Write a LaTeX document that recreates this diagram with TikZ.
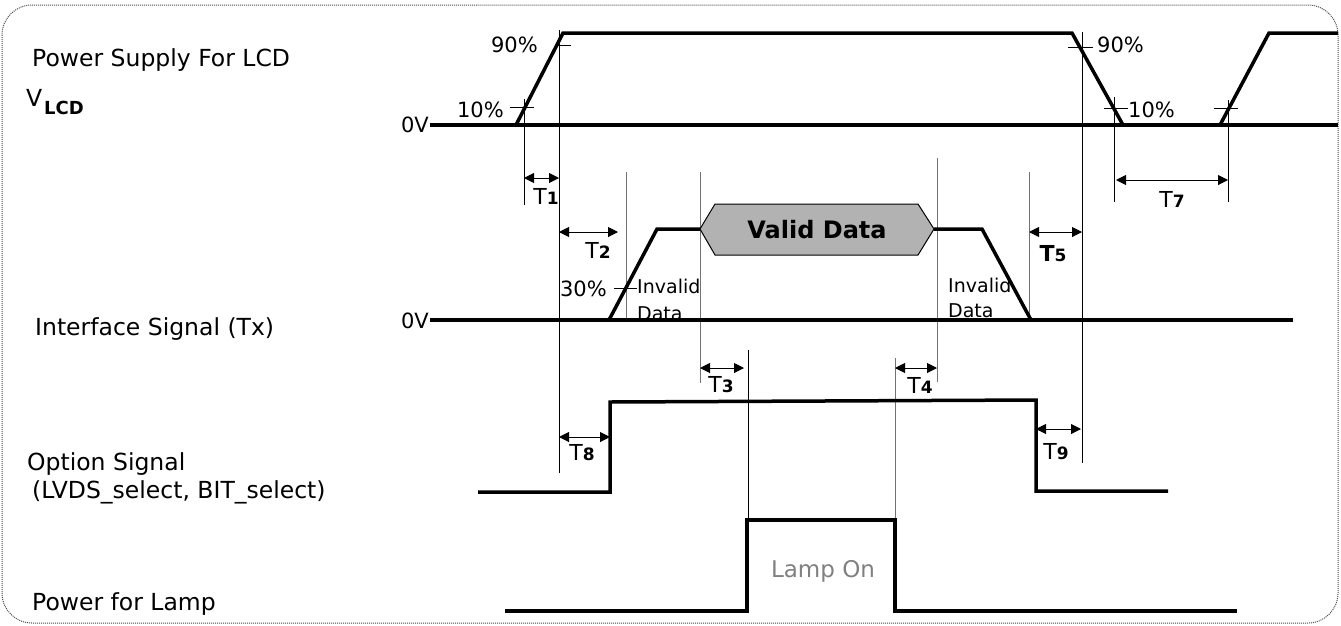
\documentclass[tikz,border=0pt]{standalone}
\usepackage{fontspec}
\setmainfont{DejaVu Sans}
\usetikzlibrary{arrows.meta}
\newcommand\Tlab[1]{T{\bfseries\fontsize{17}{19}\selectfont #1}}
\begin{document}
\begin{tikzpicture}[x=1pt,y=-1pt,
  sig/.style={line width=3.5pt,line join=miter},
  vref/.style={line width=1pt,draw=black},
  vrefg/.style={line width=1pt,draw=black!55},
  tick/.style={line width=1pt},
  dim/.style={line width=1pt,{Triangle[length=10pt,width=10pt]}-{Triangle[length=10pt,width=10pt]}},
  lbl/.style={anchor=base west,inner sep=0pt,font=\fontsize{23.5}{27}\selectfont},
  pct/.style={inner sep=0pt,font=\fontsize{21}{25}\selectfont},
  smalltxt/.style={anchor=base west,inner sep=0pt,font=\fontsize{19}{22}\selectfont},
  tlab/.style={inner sep=0pt,font=\fontsize{22}{26}\selectfont},
]
\useasboundingbox (0,0) rectangle (1341,625);
% border
\draw[black!70, line width=1pt, dash pattern=on 1pt off 1pt, rounded corners=30pt] (2,5) rectangle (1338,623);

% vertical reference lines
\draw[vref] (559,30) -- (559,473);
\draw[vref] (524,99) -- (524,205);
\draw[vref] (1082,32) -- (1082,463);
\draw[vref] (1114,97) -- (1114,202);
\draw[vref] (1228,100) -- (1228,202);
\draw[vrefg] (626,172) -- (626,322);
\draw[vrefg] (700,172) -- (700,383);
\draw[vrefg] (937,158) -- (937,382);
\draw[vrefg] (1029,172) -- (1029,322);
\draw[vref] (748,350) -- (748,520);
\draw[vrefg] (895,358) -- (895,520);

% ticks
\draw[tick] (556,45) -- (571,45);
\draw[tick] (510,107) -- (534,107);
\draw[tick] (1068,47) -- (1093,47);
\draw[tick] (1104,108) -- (1128,108);
\draw[tick] (1214,108) -- (1238,108);
\draw[tick] (614,288) -- (637,288);

% power supply
\draw[sig] (430,125) -- (1338,125);
\draw[sig] (516,125) -- (563,33) -- (1072,33) -- (1123,125);
\draw[sig] (1220,125) -- (1269,33) -- (1338,33);

% interface signal
\draw[sig] (430,320) -- (1293,320);
\draw[sig] (609,320) -- (657,229) -- (700,229);
\draw[sig] (934,229) -- (982,229) -- (1031,320);
\draw[fill=black!30, line width=1pt] (700,229) -- (715,204) -- (918,204) -- (934,229) -- (918,255) -- (715,255) -- cycle;
\node[inner sep=0pt, font=\bfseries\fontsize{24}{28}\selectfont] (vd) at (817,230) {Valid Data};

% option signal
\draw[sig] (478,492) -- (610,492) -- (610,402) -- (1036,400) -- (1036,491) -- (1168,491);

% lamp
\draw[sig] (505,611) -- (747,611) -- (747,520) -- (895,520) -- (895,611) -- (1237,611);
\node[inner sep=0pt, anchor=base, text=black!50, font=\fontsize{23}{27}\selectfont] (lampon) at (823,577) {Lamp On};

% dimension arrows
\draw[dim] (524,178) -- (559,178);
\draw[dim] (559,232) -- (618,232);
\draw[dim] (700,368) -- (744,368);
\draw[dim] (895,368) -- (937,368);
\draw[dim] (1029,232) -- (1082,232);
\draw[dim] (1116,180) -- (1228,180);
\draw[dim] (559,437) -- (610,437);
\draw[dim] (1036,429) -- (1081,429);

% T labels
\node[tlab] (t1) at (546,196) {\Tlab{1}};
\node[tlab] (t2) at (598,250) {\Tlab{2}};
\node[tlab] (t3) at (721,385) {\Tlab{3}};
\node[tlab] (t4) at (920,385) {\Tlab{4}};
\node[tlab,font=\bfseries\fontsize{22}{26}\selectfont] (t5) at (1053,254) {\Tlab{5}};
\node[tlab] (t7) at (1172,199) {\Tlab{7}};
\node[tlab] (t8) at (582,453) {\Tlab{8}};
\node[tlab] (t9) at (1056,452) {\Tlab{9}};

% percentages and 0V
\node[pct,anchor=east] (p90a) at (538,45) {90\%};
\node[pct,anchor=east] (p10a) at (504,110) {10\%};
\node[pct,anchor=west] (p90b) at (1097,45) {90\%};
\node[pct,anchor=west] (p10b) at (1128,110) {10\%};
\node[pct,anchor=east] (p30) at (607,289) {30\%};
\node[pct,anchor=east] (zv1) at (429,125) {0V};
\node[pct,anchor=east] (zv2) at (429,321) {0V};

% invalid data
\node[smalltxt] (inv1a) at (637,293) {Invalid};
\node[smalltxt] (inv1b) at (637,320) {Data};
\node[smalltxt] (inv2a) at (948,292) {Invalid};
\node[smalltxt] (inv2b) at (948,317) {Data};

% left labels
\node[lbl] (psl) at (32,66) {Power Supply For LCD};
\node[lbl] (vlcd) at (26,106) {V};
\node[anchor=base west,inner sep=0pt,font=\bfseries\fontsize{18}{20}\selectfont] (vlcds) at (44,114) {LCD};
\node[lbl] (ifs) at (35,335) {Interface Signal (Tx)};
\node[lbl] (opt) at (27,470) {Option Signal};
\node[lbl] (opt2) at (32,498) {(LVDS\_select, BIT\_select)};
\node[lbl] (pfl) at (32,610) {Power for Lamp};
\end{tikzpicture}
\end{document}
